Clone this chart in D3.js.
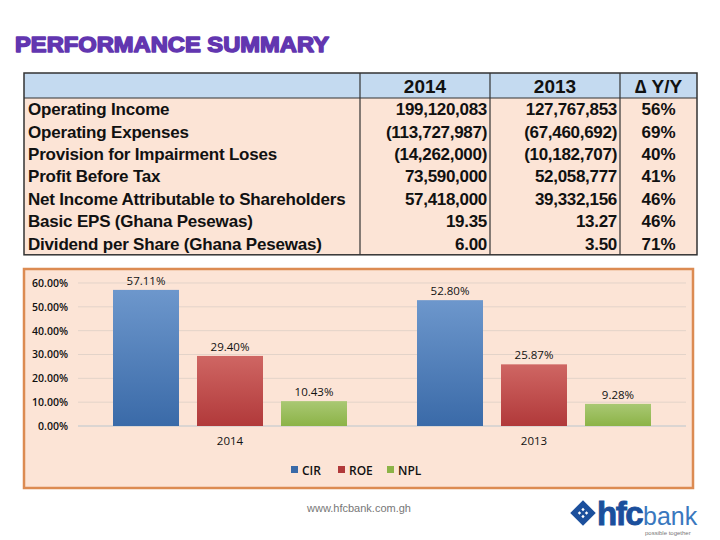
<!DOCTYPE html>
<html>
<head>
<meta charset="utf-8">
<script src="https://cdn.jsdelivr.net/npm/d3@7"></script>
<style>
  body { margin: 0; background: #fff; }
  svg { display: block; }
</style>
</head>
<body>
<svg id="chart" width="720" height="540"></svg>
<script>
// ---- table data
const rowLabels = [
  'Operating Income',
  'Operating Expenses',
  'Provision for Impairment Loses',
  'Profit Before Tax',
  'Net Income Attributable to Shareholders',
  'Basic EPS (Ghana Pesewas)',
  'Dividend per Share (Ghana Pesewas)'
];
const col2014 = ['199,120,083', '(113,727,987)', '(14,262,000)', '73,590,000', '57,418,000', '19.35', '6.00'];
const col2013 = ['127,767,853', '(67,460,692)', '(10,182,707)', '52,058,777', '39,332,156', '13.27', '3.50'];
const colDelta = ['56%', '69%', '40%', '41%', '46%', '46%', '71%'];
const tableHeaders = ['', '2014', '2013', '\u2206 Y/Y'];

// ---- chart data
const categories = ['2014', '2013'];
const seriesNames = ['CIR', 'ROE', 'NPL'];
const cirValues = [57.11, 52.80];
const roeValues = [29.40, 25.87];
const nplValues = [10.43, 9.28];
const yTicks = [0, 10, 20, 30, 40, 50, 60];

const seriesValues = { CIR: cirValues, ROE: roeValues, NPL: nplValues };
const colors = {
  CIR: ['#6d97cc', '#3a6aa8'],
  ROE: ['#cf6663', '#b1393a'],
  NPL: ['#a9c873', '#8cb347']
};

const svg = d3.select('#chart');
const defs = svg.append('defs');
seriesNames.forEach(s => {
  const g = defs.append('linearGradient').attr('id', 'grad-' + s)
    .attr('x1', 0).attr('y1', 0).attr('x2', 0).attr('y2', 1);
  g.append('stop').attr('offset', '0%').attr('stop-color', colors[s][0]);
  g.append('stop').attr('offset', '100%').attr('stop-color', colors[s][1]);
});

// title
svg.append('text')
  .attr('x', 15).attr('y', 52)
  .attr('textLength', 314).attr('lengthAdjust', 'spacingAndGlyphs')
  .style('font-family', '"Liberation Sans", Arial, sans-serif')
  .style('font-weight', 'bold').style('font-size', '22px')
  .attr('fill', '#6236b0').attr('stroke', '#6236b0').attr('stroke-width', 1.5)
  .attr('stroke-linejoin', 'round')
  .text('PERFORMANCE SUMMARY');

// ---- table
const tLeft = 24, tRight = 697, tTop = 73, headH = 25, rowH = 22.4;
const colX = [tLeft, 360, 490, 620, tRight];
const tBottom = tTop + headH + rowH * rowLabels.length;
const table = svg.append('g');

table.append('rect').attr('x', tLeft).attr('y', tTop)
  .attr('width', tRight - tLeft).attr('height', headH).attr('fill', '#c4daf0');
table.append('rect').attr('x', tLeft).attr('y', tTop + headH)
  .attr('width', tRight - tLeft).attr('height', tBottom - tTop - headH).attr('fill', '#fce4d6');

const tFont = '"Liberation Sans", Arial, sans-serif';

// header text
tableHeaders.forEach((h, i) => {
  if (!h) return;
  table.append('text')
    .attr('x', (colX[i] + colX[i + 1]) / 2).attr('y', tTop + 19.5)
    .attr('text-anchor', 'middle')
    .style('font-family', tFont).style('font-weight', 'bold').style('font-size', '19px')
    .attr('fill', '#111').text(h);
});

const rowY = i => tTop + headH + rowH * i + rowH / 2 + 6;

table.selectAll('.lbl').data(rowLabels).join('text')
  .attr('class', 'lbl')
  .attr('x', 28).attr('y', (d, i) => rowY(i))
  .style('font-family', tFont).style('font-weight', 'bold').style('font-size', '17px')
  .style('letter-spacing', '-0.2px')
  .attr('fill', '#111').text(d => d);

[[col2014, colX[2] - 3], [col2013, colX[3] - 3]].forEach(([arr, x]) => {
  table.selectAll(null).data(arr).join('text')
    .attr('x', x).attr('y', (d, i) => rowY(i))
    .attr('text-anchor', 'end')
    .style('font-family', tFont).style('font-weight', 'bold').style('font-size', '17px')
    .style('letter-spacing', '-0.3px')
    .attr('fill', '#111').text(d => d);
});

table.selectAll(null).data(colDelta).join('text')
  .attr('x', (colX[3] + colX[4]) / 2).attr('y', (d, i) => rowY(i))
  .attr('text-anchor', 'middle')
  .style('font-family', tFont).style('font-weight', 'bold').style('font-size', '17px')
  .attr('fill', '#111').text(d => d);

// table lines
colX.slice(1, 4).forEach(x => {
  table.append('line').attr('x1', x).attr('x2', x).attr('y1', tTop).attr('y2', tBottom)
    .attr('stroke', '#333').attr('stroke-width', 1.2);
});
table.append('line').attr('x1', tLeft).attr('x2', tRight)
  .attr('y1', tTop + headH).attr('y2', tTop + headH).attr('stroke', '#333').attr('stroke-width', 1.2);
table.append('rect').attr('x', tLeft).attr('y', tTop)
  .attr('width', tRight - tLeft).attr('height', tBottom - tTop)
  .attr('fill', 'none').attr('stroke', '#333').attr('stroke-width', 1.5);

// ---- chart panel
svg.append('rect').attr('x', 24).attr('y', 269).attr('width', 669).attr('height', 219)
  .attr('fill', '#fce4d6').attr('stroke', '#dc8b52').attr('stroke-width', 2.5);

const plotL = 78, plotR = 686;
const y = d3.scaleLinear().domain([0, 60]).range([426, 283]);
const x0 = d3.scaleBand().domain(categories).range([plotL, plotR]);
const groupW = 234;
const x1 = d3.scaleBand().domain(seriesNames).range([0, groupW]).paddingInner(18 / 84);
const cFont = '"Open Sans", "Liberation Sans", sans-serif';

// grid
svg.append('g').selectAll('line').data(yTicks).join('line')
  .attr('x1', plotL).attr('x2', plotR)
  .attr('y1', d => y(d)).attr('y2', d => y(d))
  .attr('stroke', d => d === 0 ? '#d0d0d0' : '#e3d3c9').attr('stroke-width', d => d === 0 ? 1.5 : 1);

// y axis labels
const yAxis = d3.axisLeft(y).tickValues(yTicks).tickSize(0).tickPadding(0)
  .tickFormat(d => d.toFixed(2) + '%');
const yg = svg.append('g').attr('transform', 'translate(68,0)').call(yAxis);
yg.select('.domain').remove();
yg.selectAll('text').style('font-family', cFont).style('font-size', '10.5px')
  .style('font-weight', '600').attr('fill', '#111');

// bars
categories.forEach((c, ci) => {
  const gx = x0(c) + (x0.bandwidth() - groupW) / 2;
  const g = svg.append('g').attr('transform', `translate(${gx},0)`);
  g.selectAll('rect').data(seriesNames).join('rect')
    .attr('x', s => x1(s)).attr('width', x1.bandwidth())
    .attr('y', s => y(seriesValues[s][ci]))
    .attr('height', s => y(0) - y(seriesValues[s][ci]))
    .attr('fill', s => `url(#grad-${s})`);
  g.selectAll('text').data(seriesNames).join('text')
    .attr('x', s => x1(s) + x1.bandwidth() / 2)
    .attr('y', s => y(seriesValues[s][ci]) - 5)
    .attr('text-anchor', 'middle')
    .style('font-family', cFont).style('font-size', '11.5px').style('font-weight', '500')
    .attr('fill', '#111')
    .text(s => seriesValues[s][ci].toFixed(2) + '%');
});

// x axis labels
const xAxis = d3.axisBottom(x0).tickSize(0).tickPadding(0);
const xg = svg.append('g').attr('transform', 'translate(0,437)').call(xAxis);
xg.select('.domain').remove();
xg.selectAll('text').style('font-family', cFont).style('font-size', '11.5px')
  .style('font-weight', '500').attr('fill', '#111');

// legend
const legendX = [291, 338, 387];
const legend = svg.append('g');
seriesNames.forEach((s, i) => {
  legend.append('rect').attr('x', legendX[i]).attr('y', 466).attr('width', 7).attr('height', 7)
    .attr('fill', colors[s][1]);
  legend.append('text').attr('x', legendX[i] + 11).attr('y', 474.5)
    .style('font-family', cFont).style('font-size', '12px').style('font-weight', '600')
    .attr('fill', '#111').text(s);
});

// footer
svg.append('text').attr('x', 359).attr('y', 512).attr('text-anchor', 'middle')
  .style('font-family', '"Liberation Sans", Arial, sans-serif').style('font-size', '11px')
  .attr('fill', '#777').text('www.hfcbank.com.gh');

// logo
const logo = svg.append('g').attr('transform', 'translate(583,513)');
logo.append('rect').attr('x', -9).attr('y', -9).attr('width', 18).attr('height', 18)
  .attr('transform', 'rotate(45)').attr('fill', '#1b4f9c');
[[-4.5, -4.5], [0.5, -4.5], [-4.5, 0.5], [0.5, 0.5]].forEach(([a, b]) => {
  logo.append('rect').attr('x', a + 0.8).attr('y', b + 0.8).attr('width', 2.4).attr('height', 2.4)
    .attr('transform', 'rotate(45)').attr('fill', '#fff');
});
const hfc = svg.append('text').attr('x', 597).attr('y', 525)
  .style('font-family', '"Liberation Sans", Arial, sans-serif').style('font-weight', 'bold')
  .style('font-size', '33px').style('letter-spacing', '-1.5px')
  .attr('fill', '#1b4f9c').attr('stroke', '#1b4f9c').attr('stroke-width', 0.9)
  .text('hfc');
const hfcEnd = 597 + hfc.node().getComputedTextLength();
svg.append('text').attr('x', hfcEnd + 1).attr('y', 525)
  .style('font-family', '"Liberation Sans", Arial, sans-serif').style('font-weight', '300')
  .style('font-size', '25px').attr('fill', '#3a78be').text('bank');
svg.append('text').attr('x', hfcEnd + 3).attr('y', 535)
  .style('font-family', '"Liberation Sans", Arial, sans-serif')
  .style('font-size', '6px').attr('fill', '#777').text('possible together');
</script>
</body>
</html>
